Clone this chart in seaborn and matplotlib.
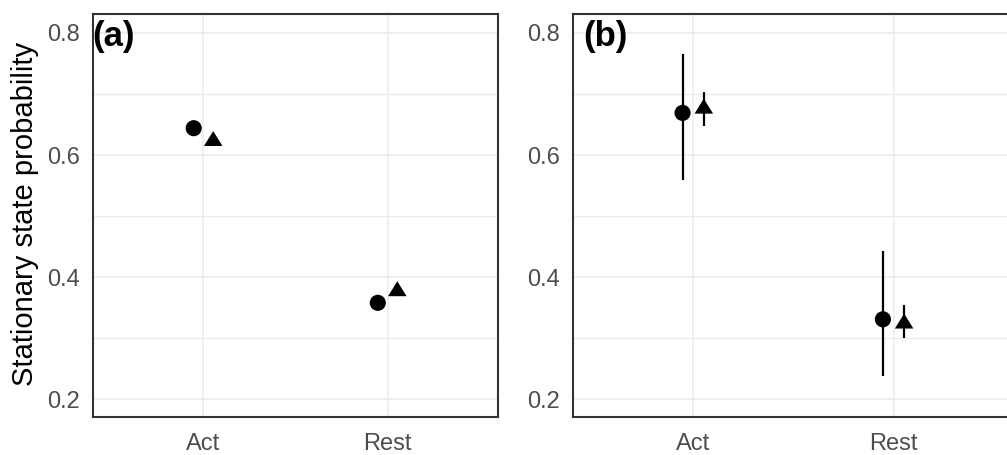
import matplotlib
matplotlib.use("Agg")
import matplotlib.pyplot as plt
import matplotlib.transforms as mtransforms
from matplotlib.ticker import FixedLocator
import pandas as pd
import seaborn as sns

# ---- data -------------------------------------------------------------
states = ["Act", "Rest"]
series = ["Model 1", "Model 2"]

# panel (a): point estimates
a_est_m1 = [0.644, 0.358]
a_est_m2 = [0.623, 0.377]

# panel (b): point estimates with interval bounds
b_est_m1 = [0.669, 0.331]
b_lo_m1 = [0.559, 0.238]
b_hi_m1 = [0.765, 0.443]
b_est_m2 = [0.676, 0.324]
b_lo_m2 = [0.648, 0.300]
b_hi_m2 = [0.703, 0.354]

panel_labels = ["(a)", "(b)"]
y_major = [0.2, 0.4, 0.6, 0.8]
y_minor = [0.3, 0.5, 0.7]
y_title = "Stationary state probability"

# ---- style ------------------------------------------------------------
sns.set_style("white")
plt.rcParams["font.family"] = ["Liberation Sans", "DejaVu Sans"]

DPI = 100
fig = plt.figure(figsize=(10.07, 4.55), dpi=DPI)
fig.patch.set_facecolor("white")

DODGE = 0.053
offsets = {series[0]: -DODGE, series[1]: DODGE}

# filled triangle with its centroid on the data point
tri_w, tri_h = 18.0, 14.5
triangle = [(0.0, 2 * tri_h / 3), (-tri_w / 2, -tri_h / 3), (tri_w / 2, -tri_h / 3), (0.0, 2 * tri_h / 3)]
marker_map = {series[0]: "o", series[1]: triangle}
size_map = {series[0]: 135, series[1]: 205}


def build_frame(est1, est2, lo1=None, hi1=None, lo2=None, hi2=None):
    rows = []
    for i, st in enumerate(states):
        rows.append(dict(state=st, series=series[0], est=est1[i],
                         lo=None if lo1 is None else lo1[i],
                         hi=None if hi1 is None else hi1[i]))
        rows.append(dict(state=st, series=series[1], est=est2[i],
                         lo=None if lo2 is None else lo2[i],
                         hi=None if hi2 is None else hi2[i]))
    df = pd.DataFrame(rows)
    df["xpos"] = df["state"].map({s: i for i, s in enumerate(states)}) + df["series"].map(offsets)
    return df


df_a = build_frame(a_est_m1, a_est_m2)
df_b = build_frame(b_est_m1, b_est_m2, b_lo_m1, b_hi_m1, b_lo_m2, b_hi_m2)

H = 455.0
W = 1007.0
bottom = (H - 417) / H
height = (417 - 14) / H
ax_a = fig.add_axes([93 / W, bottom, 405 / W, height])
ax_b = fig.add_axes([573 / W, bottom, 440.7 / W, height])

GRID = "#EBEBEB"
DARK = "#333333"

for ax, df, label, lab_dx in [(ax_a, df_a, panel_labels[0], -1), (ax_b, df_b, panel_labels[1], 10)]:
    ax.set_facecolor("white")
    ax.set_axisbelow(True)

    # interval bars
    bars = df.dropna(subset=["lo", "hi"])
    if len(bars):
        ax.vlines(bars["xpos"], bars["lo"], bars["hi"], colors="black",
                  linewidth=1.6, zorder=2)

    sns.scatterplot(data=df, x="xpos", y="est", style="series", markers=marker_map,
                    size="series", sizes=size_map, color="black", linewidth=0,
                    legend=False, ax=ax, zorder=3)

    ax.set_xlim(-0.6, 1.6)
    ax.set_ylim(0.171, 0.831)
    ax.xaxis.set_major_locator(FixedLocator(range(len(states))))
    ax.set_xticklabels(states)
    ax.yaxis.set_major_locator(FixedLocator(y_major))
    ax.yaxis.set_minor_locator(FixedLocator(y_minor))
    ax.set_yticklabels([f"{v:.1f}" for v in y_major])

    ax.grid(which="major", axis="both", color=GRID, linewidth=1.1)
    ax.grid(which="minor", axis="y", color=GRID, linewidth=1.0)

    for sp in ax.spines.values():
        sp.set_color(DARK)
        sp.set_linewidth(1.5)

    ax.tick_params(axis="both", which="major", length=5, width=1.1, color=DARK,
                   labelcolor="#4D4D4D", labelsize=17)
    ax.tick_params(axis="y", which="major", pad=4.3)
    ax.tick_params(axis="x", which="major", pad=6.5)
    ax.tick_params(axis="y", which="minor", length=0)
    ax.set_xlabel("")
    ax.set_ylabel("")

    shift = mtransforms.ScaledTranslation(lab_dx / DPI, -6 / DPI, fig.dpi_scale_trans)
    ax.text(0.0, 1.0, label, transform=ax.transAxes + shift, ha="left", va="top",
            fontsize=25, fontweight="bold", color="black", zorder=5)

fig.text(24.7 / W, 1 - 214 / H, y_title, rotation=90, ha="center", va="center",
         fontsize=21, color="black")

fig.savefig("out.png", dpi=DPI, facecolor="white")
